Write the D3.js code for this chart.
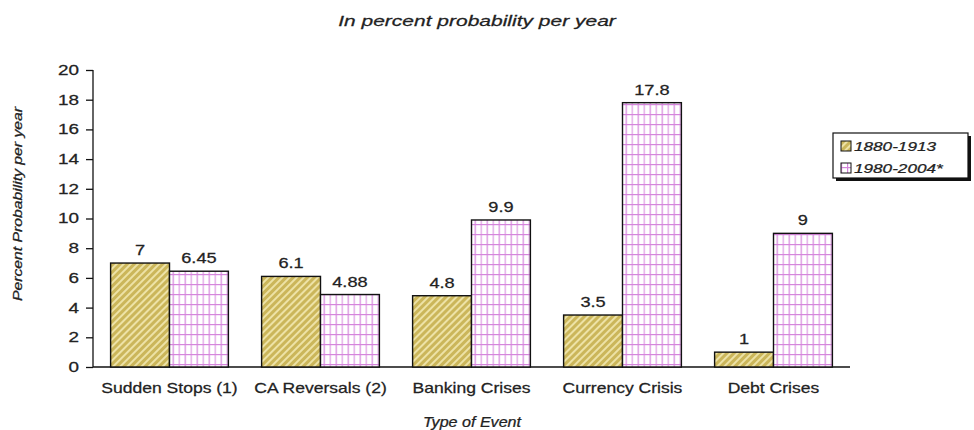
<!DOCTYPE html>
<html>
<head>
<meta charset="utf-8">
<script src="https://cdn.jsdelivr.net/npm/d3@7"></script>
<style>
  html, body { margin: 0; padding: 0; background: #fff; }
  svg { display: block; font-family: "Liberation Sans", Arial, sans-serif; }
  svg text { stroke: #222; stroke-width: 0.25px; }
</style>
</head>
<body>
<svg id="chart" width="974" height="430"></svg>
<script>
// Event categories and probabilities (percent per year) for the two eras
const categories = ["Sudden Stops (1)", "CA Reversals (2)", "Banking Crises", "Currency Crisis", "Debt Crises"];
const seriesNames = ["1880-1913", "1980-2004*"];
const values1880 = [7, 6.1, 4.8, 3.5, 1];
const values1980 = [6.45, 4.88, 9.9, 17.8, 9];
const yTicks = [0, 2, 4, 6, 8, 10, 12, 14, 16, 18, 20];
const valueLabels1880 = ["7", "6.1", "4.8", "3.5", "1"];
const valueLabels1980 = ["6.45", "4.88", "9.9", "17.8", "9"];

const svg = d3.select("#chart");
const textColor = "#222";

// Stretch text horizontally about its own x anchor (the lettering is set wide)
function widen(sel, k) {
  sel.each(function () {
    const t = d3.select(this);
    const x = +t.attr("x") || 0;
    t.attr("transform", `translate(${x * (1 - k)},0) scale(${k},1)`);
  });
  return sel;
}

// Fill patterns: hatched tan and magenta grid
const defs = svg.append("defs");
const hatch = defs.append("pattern")
  .attr("id", "hatchTan").attr("patternUnits", "userSpaceOnUse")
  .attr("width", 5).attr("height", 5)
  .attr("patternTransform", "rotate(45)");
hatch.append("rect").attr("width", 5).attr("height", 5).attr("fill", "#cbb65a");
hatch.append("rect").attr("x", 0).attr("width", 2).attr("height", 5).attr("fill", "#ede2a6");

const grid = defs.append("pattern")
  .attr("id", "gridPink").attr("patternUnits", "userSpaceOnUse")
  .attr("width", 12).attr("height", 10);
grid.append("rect").attr("width", 12).attr("height", 10).attr("fill", "#fff");
grid.append("rect").attr("x", 2).attr("width", 1.2).attr("height", 10).attr("fill", "#d585dc");
grid.append("rect").attr("x", 8).attr("width", 1.2).attr("height", 10).attr("fill", "#de9be3");
grid.append("rect").attr("y", 4).attr("width", 12).attr("height", 1.2).attr("fill", "#d585dc");

const patterns = ["url(#hatchTan)", "url(#gridPink)"];

// Scales
const y = d3.scaleLinear().domain([0, 20]).range([367, 70]);
const x0 = d3.scaleBand().domain(categories).range([94, 849]).paddingInner(0.22).paddingOuter(0.11);
const x1 = d3.scaleBand().domain(seriesNames).range([0, x0.bandwidth()]);

// Title
widen(svg.append("text")
  .attr("x", 477).attr("y", 26)
  .attr("text-anchor", "middle")
  .attr("font-size", 15).attr("font-style", "italic")
  .attr("fill", textColor)
  .text("In percent probability per year"), 1.4);

// Y axis
const yAxis = d3.axisLeft(y).tickValues(yTicks).tickSize(7).tickPadding(7);
const gy = svg.append("g").attr("transform", "translate(93,0)").call(yAxis);
gy.selectAll("text").attr("font-size", 14).attr("fill", textColor)
  .attr("font-family", "Liberation Sans, Arial, sans-serif");
widen(gy.selectAll("text"), 1.35);
gy.selectAll("line").attr("stroke", "#111").attr("stroke-width", 1.3);
gy.select(".domain").attr("stroke", "#111").attr("stroke-width", 1.3).attr("d", "M0,70V367");

// Baseline
svg.append("line")
  .attr("x1", 93).attr("x2", 850)
  .attr("y1", y(0)).attr("y2", y(0))
  .attr("stroke", "#111").attr("stroke-width", 1.3);

// Y axis title
svg.append("text")
  .attr("transform", "translate(22,204) rotate(-90)")
  .attr("text-anchor", "middle")
  .attr("font-size", 12).attr("font-style", "italic")
  .attr("fill", textColor)
  .attr("textLength", 194).attr("lengthAdjust", "spacingAndGlyphs")
  .text("Percent Probability per year");

// Bars
const rows = categories.map((c, i) => ({
  cat: c,
  items: [
    { s: seriesNames[0], v: values1880[i], lab: valueLabels1880[i], fill: patterns[0] },
    { s: seriesNames[1], v: values1980[i], lab: valueLabels1980[i], fill: patterns[1] }
  ]
}));

const groups = svg.append("g").selectAll("g").data(rows).join("g")
  .attr("transform", d => `translate(${x0(d.cat)},0)`);

groups.selectAll("rect").data(d => d.items).join("rect")
  .attr("x", d => x1(d.s))
  .attr("y", d => y(d.v))
  .attr("width", x1.bandwidth())
  .attr("height", d => y(0) - y(d.v))
  .attr("fill", d => d.fill)
  .attr("stroke", "#111").attr("stroke-width", 1.4);

widen(groups.selectAll("text.val").data(d => d.items).join("text")
  .attr("class", "val")
  .attr("x", d => x1(d.s) + x1.bandwidth() / 2)
  .attr("y", d => y(d.v) - 8)
  .attr("text-anchor", "middle")
  .attr("font-size", 14).attr("fill", textColor)
  .text(d => d.lab), 1.3);

// Category labels
widen(svg.append("g").selectAll("text").data(categories).join("text")
  .attr("x", d => x0(d) + x0.bandwidth() / 2)
  .attr("y", 393)
  .attr("text-anchor", "middle")
  .attr("font-size", 14.5).attr("fill", textColor)
  .text(d => d), 1.21);

// X axis title
widen(svg.append("text")
  .attr("x", 472).attr("y", 427)
  .attr("text-anchor", "middle")
  .attr("font-size", 14).attr("font-style", "italic")
  .attr("fill", textColor)
  .text("Type of Event"), 1.15);

// Legend with drop shadow
const lg = svg.append("g").attr("transform", "translate(833,133)");
lg.append("rect").attr("x", 3).attr("y", 3).attr("width", 135).attr("height", 45).attr("fill", "#111");
lg.append("rect").attr("width", 135).attr("height", 45).attr("fill", "#fff").attr("stroke", "#111").attr("stroke-width", 1.2);
seriesNames.forEach((s, i) => {
  const yy = 13 + i * 22;
  lg.append("rect").attr("x", 8).attr("y", yy - 5).attr("width", 10).attr("height", 10)
    .attr("fill", patterns[i]).attr("stroke", "#111").attr("stroke-width", 1);
  widen(lg.append("text").attr("x", 21).attr("y", yy + 5)
    .attr("font-size", 13).attr("font-style", "italic").attr("fill", textColor)
    .text(s), 1.32);
});
</script>
</body>
</html>
